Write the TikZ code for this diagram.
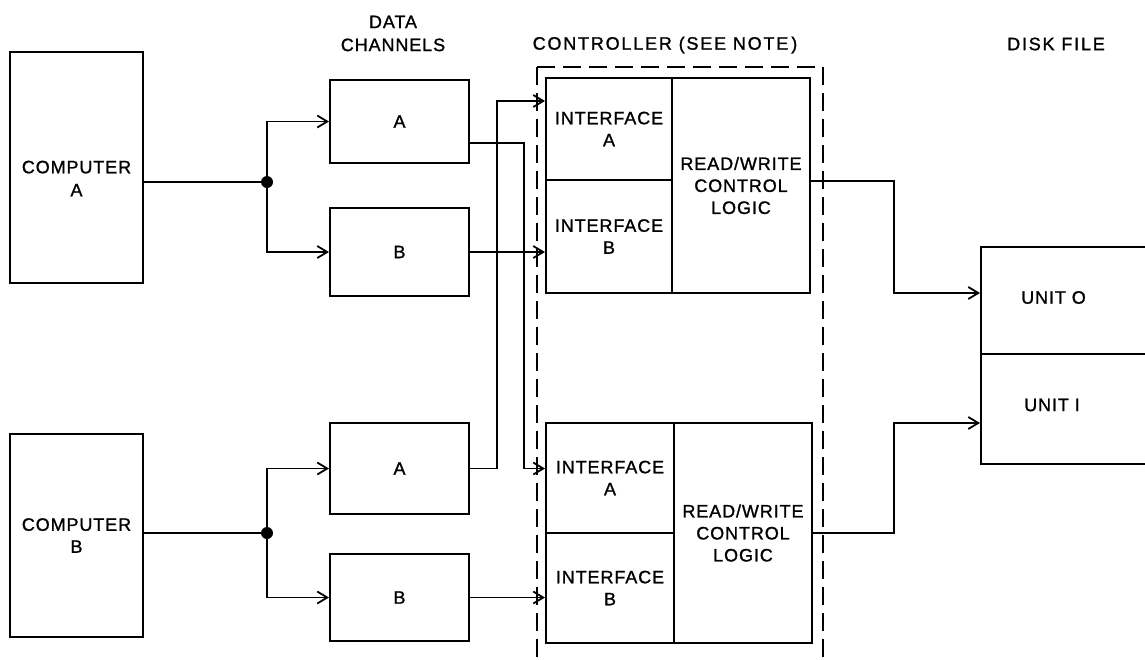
\documentclass[tikz,border=0pt]{standalone}
\usepackage{fontspec}
\setmainfont{Liberation Sans}[LetterSpace=5,FakeBold=1.2]
\newfontfamily\widefont{Liberation Sans}[LetterSpace=10,FakeBold=1.2]
\usetikzlibrary{positioning,arrows.meta,calc}

\begin{document}
\begin{tikzpicture}[x=1pt,y=-1pt,
    >={Straight Barb[length=10pt,width=12pt]},
    box/.style={draw,line width=2pt,inner sep=0pt,align=center,
        font=\fontsize{18}{22}\selectfont},
    lbl/.style={inner sep=0pt,align=center,font=\fontsize{18}{23}\selectfont},
    wire/.style={line width=1.8pt}]
    \useasboundingbox (0,0) rectangle (1145,659);

    % Ordinateurs
    \node[box,minimum width=133pt,minimum height=231pt,
        label={[lbl,yshift=-11pt]center:COMPUTER\\A}] (compA) at (76.5,167.5) {};
    \node[box,minimum width=133pt,minimum height=203pt] (compB) at (76.5,535.5) {COMPUTER\\B};

    % Canaux
    \node[box,minimum width=139pt,minimum height=83pt] (chA1) at (399.5,121.5) {A};
    \node[box,minimum width=139pt,minimum height=88pt] (chB1) at (399.5,252) {B};
    \node[box,minimum width=139pt,minimum height=91pt] (chA2) at (399.5,468.5) {A};
    \node[box,minimum width=139pt,minimum height=87pt] (chB2) at (399.5,597.5) {B};

    % Controleur
    \node[box,minimum width=126pt,minimum height=102pt] (ifA1) at (609,129) {INTERFACE\\A};
    \node[box,minimum width=126pt,minimum height=113pt] (ifB1) at (609,236.5) {INTERFACE\\B};
    \node[box,minimum width=138pt,minimum height=215pt] (rw1) at (741,185.5) {READ/WRITE\\CONTROL\\LOGIC};
    \node[box,minimum width=128pt,minimum height=110pt] (ifA2) at (610,478) {INTERFACE\\A};
    \node[box,minimum width=128pt,minimum height=110pt] (ifB2) at (610,588) {INTERFACE\\B};
    \node[box,minimum width=138pt,minimum height=220pt] (rw2) at (743,533) {READ/WRITE\\CONTROL\\LOGIC};
    \draw[line width=1.8pt,dash pattern=on 18pt off 8pt] (537,67) rectangle (823,700);

    % Disque
    \node[box,minimum width=179pt,minimum height=107pt] (unit0) at (1070.5,300.5) {};
    \node[box,minimum width=179pt,minimum height=110pt] (unit1) at (1070.5,409) {};
    \node[lbl,right=41pt of unit0.west,yshift=3pt] (unit0txt) {UNIT O};
    \node[lbl,right=44pt of unit1.west,yshift=4pt] (unit1txt) {UNIT I};

    % Titres
    \node[lbl] (chanttl) at (393,33.5) {DATA\\CHANNELS};
    \node[lbl,font=\widefont\fontsize{18}{22}\selectfont] (ctrlttl) at (665,45) {CONTROLLER (SEE NOTE\,)};
    \node[lbl,font=\widefont\fontsize{18}{22}\selectfont] (diskttl) at (1056,44) {DISK FILE};

    % Liaisons
    \coordinate (jA) at (267,182);
    \coordinate (jB) at (267,533);
    \coordinate (railA) at (524,0);
    \coordinate (railB) at (497,0);
    \coordinate (railC) at (894,0);
    \fill (jA) circle (6pt);
    \fill (jB) circle (6pt);
    \draw[wire] (jA -| compA.east) -- (jA);
    \draw[wire] (jB -| compB.east) -- (jB);
    \draw[wire,->] (jA) |- (chA1);
    \draw[wire,->] (jA) |- (chB1);
    \draw[wire,->] (jB) |- (chA2);
    \draw[wire,->] (jB) |- (chB2);

    \coordinate (oA1) at ([yshift=-21.5pt]chA1.east);
    \coordinate (iA1) at ([yshift=28pt]ifA1.west);
    \draw[wire,->] (oA1) -| (railA |- chA2.east) -- (ifA2.west |- chA2.east);
    \draw[wire,->] (chB1.east) -- (ifB1.west |- chB1.east);
    \draw[wire,->] (chA2.east) -| (railB |- iA1) -- (iA1);
    \draw[wire,->] (chB2.east) -- (ifB2.west |- chB2.east);

    \coordinate (oR1) at (rw1.east |- ifA1.south);
    \coordinate (in0) at ([yshift=7.5pt]unit0.west);
    \coordinate (in1) at ([yshift=-14pt]unit1.west);
    \draw[wire,->] (oR1) -| (railC |- in0) -- (in0);
    \draw[wire,->] (rw2.east) -| (railC |- in1) -- (in1);
\end{tikzpicture}
\end{document}
